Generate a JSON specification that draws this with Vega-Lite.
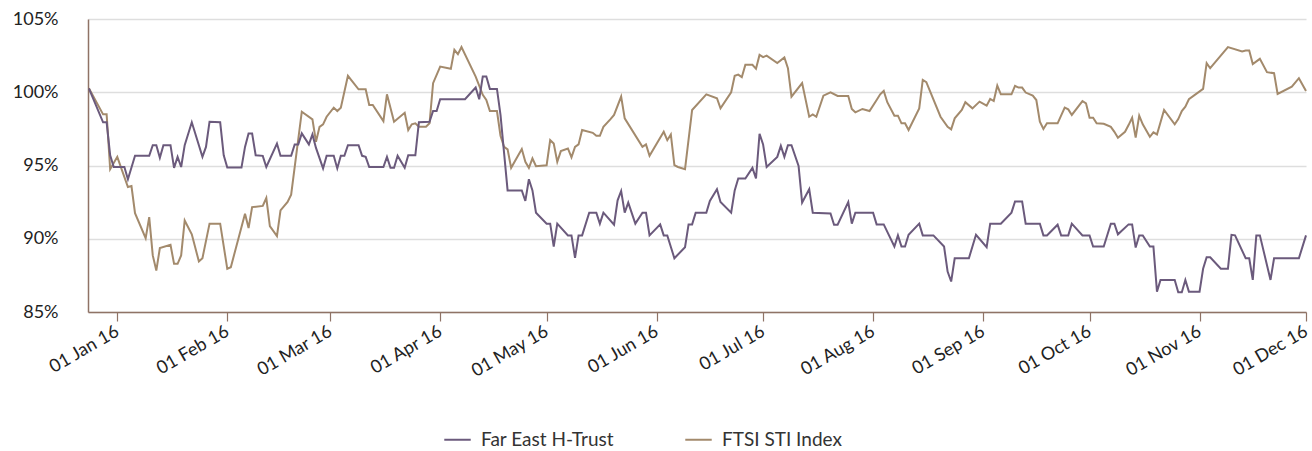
{
  "$schema": "https://vega.github.io/schema/vega-lite/v6.json",
  "width": 1218,
  "height": 293,
  "autosize": "none",
  "padding": {"left": 88, "top": 19, "right": 6, "bottom": 139},
  "background": "white",
  "config": {
    "view": {"stroke": null},
    "font": "Lato"
  },
  "datasets": {
    "feht": [
      {"date": "2015-12-24", "value": 100.27},
      {"date": "2015-12-28", "value": 97.95},
      {"date": "2015-12-29", "value": 97.95},
      {"date": "2015-12-30", "value": 95.7},
      {"date": "2015-12-31", "value": 94.9},
      {"date": "2016-01-03", "value": 94.9},
      {"date": "2016-01-04", "value": 94.06},
      {"date": "2016-01-06", "value": 95.66},
      {"date": "2016-01-10", "value": 95.66},
      {"date": "2016-01-11", "value": 96.39},
      {"date": "2016-01-12", "value": 96.39},
      {"date": "2016-01-13", "value": 95.52},
      {"date": "2016-01-14", "value": 96.39},
      {"date": "2016-01-16", "value": 96.39},
      {"date": "2016-01-17", "value": 94.84},
      {"date": "2016-01-18", "value": 95.59},
      {"date": "2016-01-19", "value": 94.9},
      {"date": "2016-01-20", "value": 96.39},
      {"date": "2016-01-22", "value": 97.95},
      {"date": "2016-01-25", "value": 95.59},
      {"date": "2016-01-26", "value": 96.27},
      {"date": "2016-01-27", "value": 97.99},
      {"date": "2016-01-30", "value": 97.95},
      {"date": "2016-01-31", "value": 95.7},
      {"date": "2016-02-01", "value": 94.86},
      {"date": "2016-02-05", "value": 94.86},
      {"date": "2016-02-06", "value": 96.27},
      {"date": "2016-02-07", "value": 97.19},
      {"date": "2016-02-08", "value": 97.19},
      {"date": "2016-02-09", "value": 95.7},
      {"date": "2016-02-11", "value": 95.66},
      {"date": "2016-02-12", "value": 94.9},
      {"date": "2016-02-15", "value": 96.5},
      {"date": "2016-02-16", "value": 95.66},
      {"date": "2016-02-19", "value": 95.66},
      {"date": "2016-02-20", "value": 96.44},
      {"date": "2016-02-21", "value": 96.44},
      {"date": "2016-02-22", "value": 97.19},
      {"date": "2016-02-24", "value": 96.44},
      {"date": "2016-02-25", "value": 97.12},
      {"date": "2016-02-26", "value": 96.2},
      {"date": "2016-02-28", "value": 94.8},
      {"date": "2016-02-29", "value": 95.66},
      {"date": "2016-03-02", "value": 95.66},
      {"date": "2016-03-03", "value": 94.8},
      {"date": "2016-03-04", "value": 95.66},
      {"date": "2016-03-05", "value": 95.66},
      {"date": "2016-03-06", "value": 96.39},
      {"date": "2016-03-09", "value": 96.39},
      {"date": "2016-03-10", "value": 95.66},
      {"date": "2016-03-11", "value": 95.59},
      {"date": "2016-03-12", "value": 94.9},
      {"date": "2016-03-16", "value": 94.9},
      {"date": "2016-03-17", "value": 95.59},
      {"date": "2016-03-18", "value": 94.84},
      {"date": "2016-03-19", "value": 94.84},
      {"date": "2016-03-20", "value": 95.66},
      {"date": "2016-03-22", "value": 94.84},
      {"date": "2016-03-23", "value": 95.7},
      {"date": "2016-03-25", "value": 95.7},
      {"date": "2016-03-26", "value": 97.95},
      {"date": "2016-03-29", "value": 97.99},
      {"date": "2016-03-30", "value": 98.72},
      {"date": "2016-03-31", "value": 98.72},
      {"date": "2016-04-01", "value": 99.52},
      {"date": "2016-04-08", "value": 99.52},
      {"date": "2016-04-11", "value": 100.32},
      {"date": "2016-04-12", "value": 99.52},
      {"date": "2016-04-13", "value": 101.07},
      {"date": "2016-04-14", "value": 101.07},
      {"date": "2016-04-15", "value": 100.23},
      {"date": "2016-04-17", "value": 100.23},
      {"date": "2016-04-18", "value": 98.45},
      {"date": "2016-04-20", "value": 93.3},
      {"date": "2016-04-24", "value": 93.3},
      {"date": "2016-04-25", "value": 92.58},
      {"date": "2016-04-26", "value": 94.06},
      {"date": "2016-04-27", "value": 93.3},
      {"date": "2016-04-28", "value": 91.78},
      {"date": "2016-05-01", "value": 91.03},
      {"date": "2016-05-02", "value": 91.03},
      {"date": "2016-05-03", "value": 89.47},
      {"date": "2016-05-04", "value": 91.03},
      {"date": "2016-05-07", "value": 90.23},
      {"date": "2016-05-08", "value": 90.23},
      {"date": "2016-05-09", "value": 88.7},
      {"date": "2016-05-10", "value": 90.23},
      {"date": "2016-05-11", "value": 90.23},
      {"date": "2016-05-13", "value": 91.78},
      {"date": "2016-05-15", "value": 91.78},
      {"date": "2016-05-16", "value": 91.03},
      {"date": "2016-05-17", "value": 91.78},
      {"date": "2016-05-20", "value": 90.96},
      {"date": "2016-05-21", "value": 92.62},
      {"date": "2016-05-22", "value": 93.26},
      {"date": "2016-05-23", "value": 91.78},
      {"date": "2016-05-24", "value": 92.47},
      {"date": "2016-05-26", "value": 91.03},
      {"date": "2016-05-28", "value": 91.78},
      {"date": "2016-05-29", "value": 91.78},
      {"date": "2016-05-30", "value": 90.23},
      {"date": "2016-06-02", "value": 90.98},
      {"date": "2016-06-03", "value": 90.23},
      {"date": "2016-06-04", "value": 90.23},
      {"date": "2016-06-06", "value": 88.67},
      {"date": "2016-06-09", "value": 89.42},
      {"date": "2016-06-10", "value": 90.98},
      {"date": "2016-06-11", "value": 90.98},
      {"date": "2016-06-12", "value": 91.78},
      {"date": "2016-06-15", "value": 91.78},
      {"date": "2016-06-16", "value": 92.58},
      {"date": "2016-06-18", "value": 93.38},
      {"date": "2016-06-19", "value": 92.51},
      {"date": "2016-06-22", "value": 91.78},
      {"date": "2016-06-23", "value": 93.3},
      {"date": "2016-06-24", "value": 94.11},
      {"date": "2016-06-26", "value": 94.11},
      {"date": "2016-06-28", "value": 94.84},
      {"date": "2016-06-29", "value": 94.11},
      {"date": "2016-06-30", "value": 97.17},
      {"date": "2016-07-01", "value": 96.44},
      {"date": "2016-07-02", "value": 94.9},
      {"date": "2016-07-05", "value": 95.59},
      {"date": "2016-07-06", "value": 96.34},
      {"date": "2016-07-07", "value": 95.59},
      {"date": "2016-07-08", "value": 96.39},
      {"date": "2016-07-09", "value": 96.39},
      {"date": "2016-07-11", "value": 94.97},
      {"date": "2016-07-12", "value": 92.47},
      {"date": "2016-07-14", "value": 93.38},
      {"date": "2016-07-15", "value": 91.78},
      {"date": "2016-07-20", "value": 91.73},
      {"date": "2016-07-21", "value": 90.96},
      {"date": "2016-07-22", "value": 90.96},
      {"date": "2016-07-25", "value": 92.51},
      {"date": "2016-07-26", "value": 91.03},
      {"date": "2016-07-27", "value": 91.78},
      {"date": "2016-08-01", "value": 91.78},
      {"date": "2016-08-02", "value": 90.98},
      {"date": "2016-08-04", "value": 90.98},
      {"date": "2016-08-07", "value": 89.47},
      {"date": "2016-08-08", "value": 90.23},
      {"date": "2016-08-09", "value": 89.47},
      {"date": "2016-08-10", "value": 89.47},
      {"date": "2016-08-11", "value": 90.27},
      {"date": "2016-08-14", "value": 91.03},
      {"date": "2016-08-15", "value": 90.23},
      {"date": "2016-08-18", "value": 90.23},
      {"date": "2016-08-21", "value": 89.47},
      {"date": "2016-08-22", "value": 87.76},
      {"date": "2016-08-23", "value": 87.08},
      {"date": "2016-08-24", "value": 88.67},
      {"date": "2016-08-28", "value": 88.67},
      {"date": "2016-08-30", "value": 90.27},
      {"date": "2016-09-02", "value": 89.42},
      {"date": "2016-09-03", "value": 91.03},
      {"date": "2016-09-06", "value": 91.03},
      {"date": "2016-09-09", "value": 91.78},
      {"date": "2016-09-10", "value": 92.55},
      {"date": "2016-09-12", "value": 92.55},
      {"date": "2016-09-13", "value": 91.03},
      {"date": "2016-09-17", "value": 91.03},
      {"date": "2016-09-18", "value": 90.23},
      {"date": "2016-09-19", "value": 90.23},
      {"date": "2016-09-22", "value": 90.96},
      {"date": "2016-09-23", "value": 90.23},
      {"date": "2016-09-25", "value": 90.23},
      {"date": "2016-09-26", "value": 91.03},
      {"date": "2016-09-29", "value": 90.23},
      {"date": "2016-10-01", "value": 90.23},
      {"date": "2016-10-02", "value": 89.47},
      {"date": "2016-10-05", "value": 89.47},
      {"date": "2016-10-07", "value": 91.03},
      {"date": "2016-10-08", "value": 91.03},
      {"date": "2016-10-09", "value": 90.3},
      {"date": "2016-10-12", "value": 90.98},
      {"date": "2016-10-13", "value": 90.98},
      {"date": "2016-10-14", "value": 89.4},
      {"date": "2016-10-15", "value": 90.23},
      {"date": "2016-10-16", "value": 90.23},
      {"date": "2016-10-18", "value": 89.47},
      {"date": "2016-10-19", "value": 89.47},
      {"date": "2016-10-20", "value": 86.39},
      {"date": "2016-10-21", "value": 87.19},
      {"date": "2016-10-25", "value": 87.19},
      {"date": "2016-10-26", "value": 86.35},
      {"date": "2016-10-27", "value": 86.35},
      {"date": "2016-10-28", "value": 87.19},
      {"date": "2016-10-29", "value": 86.39},
      {"date": "2016-11-01", "value": 86.39},
      {"date": "2016-11-02", "value": 87.95},
      {"date": "2016-11-03", "value": 88.74},
      {"date": "2016-11-04", "value": 88.74},
      {"date": "2016-11-07", "value": 87.95},
      {"date": "2016-11-09", "value": 87.95},
      {"date": "2016-11-10", "value": 90.27},
      {"date": "2016-11-11", "value": 90.23},
      {"date": "2016-11-14", "value": 88.67},
      {"date": "2016-11-15", "value": 88.67},
      {"date": "2016-11-16", "value": 87.19},
      {"date": "2016-11-17", "value": 90.23},
      {"date": "2016-11-18", "value": 90.23},
      {"date": "2016-11-21", "value": 87.19},
      {"date": "2016-11-22", "value": 88.67},
      {"date": "2016-11-29", "value": 88.67},
      {"date": "2016-12-01", "value": 90.23}
    ],
    "ftsi": [
      {"date": "2015-12-24", "value": 100.27},
      {"date": "2015-12-28", "value": 98.49},
      {"date": "2015-12-29", "value": 98.49},
      {"date": "2015-12-30", "value": 94.75},
      {"date": "2016-01-01", "value": 95.59},
      {"date": "2016-01-04", "value": 93.53},
      {"date": "2016-01-05", "value": 93.6},
      {"date": "2016-01-06", "value": 91.75},
      {"date": "2016-01-09", "value": 90.04},
      {"date": "2016-01-10", "value": 91.48},
      {"date": "2016-01-11", "value": 88.86},
      {"date": "2016-01-12", "value": 87.83},
      {"date": "2016-01-13", "value": 89.36},
      {"date": "2016-01-16", "value": 89.59},
      {"date": "2016-01-17", "value": 88.29},
      {"date": "2016-01-18", "value": 88.29},
      {"date": "2016-01-19", "value": 88.86},
      {"date": "2016-01-20", "value": 91.25},
      {"date": "2016-01-22", "value": 90.3},
      {"date": "2016-01-24", "value": 88.45},
      {"date": "2016-01-25", "value": 88.67},
      {"date": "2016-01-27", "value": 91.03},
      {"date": "2016-01-30", "value": 91.03},
      {"date": "2016-02-01", "value": 87.95},
      {"date": "2016-02-02", "value": 88.06},
      {"date": "2016-02-06", "value": 91.71},
      {"date": "2016-02-07", "value": 90.73},
      {"date": "2016-02-08", "value": 92.16},
      {"date": "2016-02-11", "value": 92.24},
      {"date": "2016-02-12", "value": 92.78},
      {"date": "2016-02-13", "value": 90.86},
      {"date": "2016-02-15", "value": 90.18},
      {"date": "2016-02-16", "value": 91.94},
      {"date": "2016-02-18", "value": 92.51},
      {"date": "2016-02-19", "value": 93.01},
      {"date": "2016-02-22", "value": 98.67},
      {"date": "2016-02-25", "value": 98.15},
      {"date": "2016-02-26", "value": 96.62},
      {"date": "2016-02-27", "value": 97.64},
      {"date": "2016-02-28", "value": 97.81},
      {"date": "2016-02-29", "value": 98.33},
      {"date": "2016-03-02", "value": 98.95},
      {"date": "2016-03-03", "value": 98.72},
      {"date": "2016-03-04", "value": 98.95},
      {"date": "2016-03-06", "value": 101.12},
      {"date": "2016-03-09", "value": 100.2},
      {"date": "2016-03-11", "value": 100.2},
      {"date": "2016-03-12", "value": 99.13},
      {"date": "2016-03-13", "value": 99.13},
      {"date": "2016-03-16", "value": 98.03},
      {"date": "2016-03-17", "value": 99.86},
      {"date": "2016-03-19", "value": 97.99},
      {"date": "2016-03-22", "value": 98.6},
      {"date": "2016-03-23", "value": 97.42},
      {"date": "2016-03-24", "value": 97.81},
      {"date": "2016-03-25", "value": 97.88},
      {"date": "2016-03-26", "value": 97.64},
      {"date": "2016-03-28", "value": 97.64},
      {"date": "2016-03-29", "value": 97.88},
      {"date": "2016-03-30", "value": 100.62},
      {"date": "2016-04-01", "value": 101.75},
      {"date": "2016-04-04", "value": 101.6},
      {"date": "2016-04-05", "value": 102.9},
      {"date": "2016-04-06", "value": 102.6},
      {"date": "2016-04-07", "value": 103.08},
      {"date": "2016-04-11", "value": 101.07},
      {"date": "2016-04-13", "value": 99.82},
      {"date": "2016-04-14", "value": 99.47},
      {"date": "2016-04-15", "value": 98.72},
      {"date": "2016-04-17", "value": 98.72},
      {"date": "2016-04-18", "value": 97.03},
      {"date": "2016-04-19", "value": 96.27},
      {"date": "2016-04-20", "value": 96.1},
      {"date": "2016-04-21", "value": 94.84},
      {"date": "2016-04-24", "value": 96.12},
      {"date": "2016-04-25", "value": 95.25},
      {"date": "2016-04-26", "value": 94.84},
      {"date": "2016-04-27", "value": 95.48},
      {"date": "2016-04-28", "value": 94.95},
      {"date": "2016-05-01", "value": 95.02},
      {"date": "2016-05-02", "value": 96.73},
      {"date": "2016-05-03", "value": 96.5},
      {"date": "2016-05-04", "value": 95.25},
      {"date": "2016-05-05", "value": 95.98},
      {"date": "2016-05-07", "value": 96.16},
      {"date": "2016-05-08", "value": 95.55},
      {"date": "2016-05-09", "value": 96.27},
      {"date": "2016-05-10", "value": 96.44},
      {"date": "2016-05-11", "value": 97.42},
      {"date": "2016-05-14", "value": 97.23},
      {"date": "2016-05-15", "value": 97.03},
      {"date": "2016-05-16", "value": 97.03},
      {"date": "2016-05-17", "value": 97.64},
      {"date": "2016-05-19", "value": 98.17},
      {"date": "2016-05-20", "value": 98.45},
      {"date": "2016-05-22", "value": 99.7},
      {"date": "2016-05-23", "value": 98.22},
      {"date": "2016-05-28", "value": 96.27},
      {"date": "2016-05-29", "value": 96.44},
      {"date": "2016-05-30", "value": 95.66},
      {"date": "2016-06-03", "value": 97.3},
      {"date": "2016-06-04", "value": 96.73},
      {"date": "2016-06-05", "value": 97.12},
      {"date": "2016-06-06", "value": 95.02},
      {"date": "2016-06-07", "value": 94.9},
      {"date": "2016-06-09", "value": 94.75},
      {"date": "2016-06-11", "value": 98.79},
      {"date": "2016-06-15", "value": 99.86},
      {"date": "2016-06-18", "value": 99.59},
      {"date": "2016-06-19", "value": 98.9},
      {"date": "2016-06-22", "value": 100.0},
      {"date": "2016-06-23", "value": 101.12},
      {"date": "2016-06-24", "value": 101.2},
      {"date": "2016-06-25", "value": 101.03},
      {"date": "2016-06-26", "value": 101.87},
      {"date": "2016-06-28", "value": 101.87},
      {"date": "2016-06-29", "value": 101.6},
      {"date": "2016-06-30", "value": 102.55},
      {"date": "2016-07-01", "value": 102.4},
      {"date": "2016-07-02", "value": 102.5},
      {"date": "2016-07-05", "value": 101.99},
      {"date": "2016-07-07", "value": 102.37},
      {"date": "2016-07-08", "value": 101.64},
      {"date": "2016-07-09", "value": 99.7},
      {"date": "2016-07-12", "value": 100.62},
      {"date": "2016-07-14", "value": 98.33},
      {"date": "2016-07-15", "value": 98.49},
      {"date": "2016-07-16", "value": 98.33},
      {"date": "2016-07-18", "value": 99.77},
      {"date": "2016-07-20", "value": 100.0},
      {"date": "2016-07-22", "value": 99.75},
      {"date": "2016-07-25", "value": 99.75},
      {"date": "2016-07-26", "value": 98.86},
      {"date": "2016-07-27", "value": 98.63},
      {"date": "2016-07-29", "value": 98.86},
      {"date": "2016-07-31", "value": 98.72},
      {"date": "2016-08-02", "value": 99.47},
      {"date": "2016-08-03", "value": 99.86},
      {"date": "2016-08-04", "value": 100.09},
      {"date": "2016-08-05", "value": 99.32},
      {"date": "2016-08-07", "value": 98.4},
      {"date": "2016-08-08", "value": 98.4},
      {"date": "2016-08-09", "value": 97.88},
      {"date": "2016-08-10", "value": 97.88},
      {"date": "2016-08-11", "value": 97.42},
      {"date": "2016-08-14", "value": 98.9},
      {"date": "2016-08-15", "value": 100.84},
      {"date": "2016-08-16", "value": 100.69},
      {"date": "2016-08-20", "value": 98.33},
      {"date": "2016-08-22", "value": 97.64},
      {"date": "2016-08-23", "value": 97.47},
      {"date": "2016-08-24", "value": 98.22},
      {"date": "2016-08-26", "value": 98.79},
      {"date": "2016-08-27", "value": 99.32},
      {"date": "2016-08-29", "value": 98.9},
      {"date": "2016-08-31", "value": 99.36},
      {"date": "2016-09-02", "value": 99.08},
      {"date": "2016-09-03", "value": 99.54},
      {"date": "2016-09-04", "value": 99.4},
      {"date": "2016-09-05", "value": 100.45},
      {"date": "2016-09-06", "value": 99.86},
      {"date": "2016-09-09", "value": 99.86},
      {"date": "2016-09-10", "value": 100.43},
      {"date": "2016-09-11", "value": 100.32},
      {"date": "2016-09-12", "value": 100.32},
      {"date": "2016-09-13", "value": 99.98},
      {"date": "2016-09-15", "value": 99.77},
      {"date": "2016-09-16", "value": 99.47},
      {"date": "2016-09-17", "value": 97.99},
      {"date": "2016-09-18", "value": 97.49},
      {"date": "2016-09-19", "value": 97.88},
      {"date": "2016-09-22", "value": 97.88},
      {"date": "2016-09-24", "value": 98.95},
      {"date": "2016-09-25", "value": 98.83},
      {"date": "2016-09-26", "value": 98.45},
      {"date": "2016-09-29", "value": 99.4},
      {"date": "2016-09-30", "value": 99.24},
      {"date": "2016-10-01", "value": 98.26},
      {"date": "2016-10-02", "value": 98.26},
      {"date": "2016-10-03", "value": 97.88},
      {"date": "2016-10-05", "value": 97.85},
      {"date": "2016-10-07", "value": 97.64},
      {"date": "2016-10-08", "value": 97.3},
      {"date": "2016-10-09", "value": 96.89},
      {"date": "2016-10-11", "value": 97.3},
      {"date": "2016-10-12", "value": 97.76},
      {"date": "2016-10-13", "value": 98.26},
      {"date": "2016-10-14", "value": 96.9},
      {"date": "2016-10-15", "value": 98.4},
      {"date": "2016-10-16", "value": 97.81},
      {"date": "2016-10-18", "value": 96.96},
      {"date": "2016-10-19", "value": 97.26},
      {"date": "2016-10-20", "value": 97.12},
      {"date": "2016-10-22", "value": 98.79},
      {"date": "2016-10-25", "value": 97.81},
      {"date": "2016-10-26", "value": 98.17},
      {"date": "2016-10-27", "value": 98.72},
      {"date": "2016-10-28", "value": 99.02},
      {"date": "2016-10-29", "value": 99.52},
      {"date": "2016-11-02", "value": 100.23},
      {"date": "2016-11-03", "value": 101.99},
      {"date": "2016-11-04", "value": 101.64},
      {"date": "2016-11-09", "value": 103.08},
      {"date": "2016-11-13", "value": 102.78},
      {"date": "2016-11-14", "value": 102.85},
      {"date": "2016-11-15", "value": 102.85},
      {"date": "2016-11-16", "value": 101.92},
      {"date": "2016-11-18", "value": 102.28},
      {"date": "2016-11-20", "value": 101.37},
      {"date": "2016-11-22", "value": 101.3},
      {"date": "2016-11-23", "value": 99.88},
      {"date": "2016-11-27", "value": 100.38},
      {"date": "2016-11-29", "value": 100.96},
      {"date": "2016-12-01", "value": 100.09}
    ]
  },
  "layer": [
    {
      "data": {"name": "ftsi"},
      "transform": [{"calculate": "'FTSI STI Index'", "as": "series"}],
      "mark": {"type": "line", "strokeWidth": 2, "interpolate": "linear"},
      "encoding": {
        "x": {"field": "date", "type": "temporal"},
        "y": {"field": "value", "type": "quantitative"},
        "color": {"field": "series", "type": "nominal"}
      }
    },
    {
      "data": {"name": "feht"},
      "transform": [{"calculate": "'Far East H-Trust'", "as": "series"}],
      "mark": {"type": "line", "strokeWidth": 2, "interpolate": "linear"},
      "encoding": {
        "x": {"field": "date", "type": "temporal"},
        "y": {"field": "value", "type": "quantitative"},
        "color": {"field": "series", "type": "nominal"}
      }
    }
  ],
  "encoding": {
    "x": {
      "field": "date",
      "type": "temporal",
      "title": null,
      "scale": {
        "type": "utc",
        "domain": [
          {"year": 2015, "month": 12, "date": 23, "hours": 18, "utc": true},
          {"year": 2016, "month": 12, "date": 1, "utc": true}
        ]
      },
      "axis": {
        "format": "%d %b %y",
        "tickCount": {"interval": "month", "step": 1},
        "grid": false,
        "domainColor": "#8f7366",
        "domainWidth": 1.5,
        "tickColor": "#8f7366",
        "tickWidth": 1.2,
        "tickSize": 9,
        "labelAngle": -30,
        "labelAlign": "right",
        "labelBaseline": "middle",
        "labelPadding": 9,
        "labelFontSize": 18,
        "labelColor": "#222222",
        "labelFont": "Lato",
        "labelOverlap": false,
        "labelFlush": false
      }
    },
    "y": {
      "field": "value",
      "type": "quantitative",
      "title": null,
      "scale": {"domain": [85, 105], "nice": false, "zero": false},
      "axis": {
        "values": [85, 90, 95, 100, 105],
        "labelExpr": "datum.value + '%'",
        "grid": true,
        "gridColor": "#dedede",
        "gridWidth": 1.5,
        "ticks": false,
        "tickSize": 0,
        "domainColor": "#8f7366",
        "domainWidth": 1.5,
        "labelPadding": 30,
        "labelFontSize": 18,
        "labelColor": "#222222",
        "labelFont": "Lato"
      }
    },
    "color": {
      "field": "series",
      "type": "nominal",
      "scale": {
        "domain": ["Far East H-Trust", "FTSI STI Index"],
        "range": ["#6b5a7c", "#a38a6c"]
      },
      "legend": {
        "title": null,
        "orient": "none",
        "direction": "horizontal",
        "legendX": 355,
        "legendY": 406,
        "symbolType": "stroke",
        "symbolSize": 700,
        "symbolStrokeWidth": 2,
        "labelFontSize": 19,
        "labelColor": "#333333",
        "labelFont": "Lato",
        "labelOffset": 9,
        "columnPadding": 67
      }
    }
  }
}
